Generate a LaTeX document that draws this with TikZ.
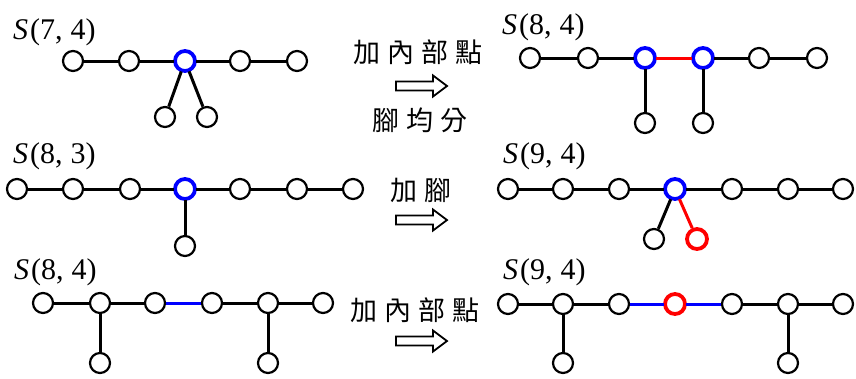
\documentclass[tikz,border=0pt]{standalone}
\usepackage{fontspec}
\setmainfont{Liberation Serif}
\newfontfamily\cjk{Noto Sans CJK TC}
\newcommand\slabel[2]{\textit{S}\hspace{2pt}(#1,\hspace{8pt}#2)}
\newcommand\gap{\hspace{7pt}}
\tikzset{
  vtx/.style={circle,draw,line width=2.2pt,minimum size=20pt,inner sep=0pt,fill=white},
  hub/.style={vtx,draw=blue,line width=3.8pt},
  newv/.style={vtx,draw=red,line width=3.8pt},
  edge/.style={line width=3pt},
  tag/.style={anchor=base west,inner sep=0pt,font=\fontsize{30}{33}\selectfont},
  op/.style={inner sep=0pt,font=\cjk\fontsize{27}{30}\selectfont},
  imp/.style={line width=1.8pt,line join=miter}
}
\begin{document}
\begin{tikzpicture}[x=1pt,y=-1pt]
    \useasboundingbox (0,0) rectangle (856,378);
    % top left: S(7,4)
    \node[tag] (la) at (13,39) {\slabel{7}{4}};
    \foreach \i/\x in {1/73,2/129,3/185,4/240,5/297}
        \node[vtx] (a\i) at (\x,61) {};
    \node[hub] at (a3) {};
    \node[vtx] (b1) at (165,117) {};
    \node[vtx] (b2) at (207,117) {};
    \draw[edge] (a1) -- (a2) -- (a3) -- (a4) -- (a5);
    \draw[edge] (a3) -- (b1) (a3) -- (b2);
    % top right: S(8,4)
    \node[tag] (lc) at (502,34) {\slabel{8}{4}};
    \foreach \i/\x in {1/530,2/588,3/645,4/703,5/759,6/817}
        \node[vtx] (c\i) at (\x,58) {};
    \node[hub] at (c3) {};
    \node[hub] at (c4) {};
    \node[vtx] (d1) at (645,123) {};
    \node[vtx] (d2) at (703,123) {};
    \draw[edge] (c1) -- (c2) -- (c3) (c4) -- (c5) -- (c6);
    \draw[edge,red] (c3) -- (c4);
    \draw[edge] (c3) -- (d1) (c4) -- (d2);
    % middle left: S(8,3)
    \node[tag] (le) at (13,163) {\slabel{8}{3}};
    \foreach \i/\x in {1/17,2/73,3/130,4/185,5/240,6/297,7/353}
        \node[vtx] (e\i) at (\x,189) {};
    \node[hub] at (e4) {};
    \node[vtx] (f) at (185,246) {};
    \draw[edge] (e1) -- (e2) -- (e3) -- (e4) -- (e5) -- (e6) -- (e7);
    \draw[edge] (e4) -- (f);
    % middle right: S(9,4)
    \node[tag] (lg) at (503,163) {\slabel{9}{4}};
    \foreach \i/\x in {1/508,2/563,3/619,4/675,5/732,6/788,7/843}
        \node[vtx] (g\i) at (\x,189) {};
    \node[hub] at (g4) {};
    \node[vtx] (h1) at (654,239) {};
    \node[newv] (h2) at (697,239) {};
    \draw[edge] (g1) -- (g2) -- (g3) -- (g4) -- (g5) -- (g6) -- (g7);
    \draw[edge] (g4) -- (h1);
    \draw[edge,red] (g4) -- (h2);
    % bottom left: S(8,4)
    \node[tag] (lk) at (14,279) {\slabel{8}{4}};
    \foreach \i/\x in {1/43,2/100,3/155,4/212,5/268,6/323}
        \node[vtx] (k\i) at (\x,303) {};
    \node[vtx] (m1) at (100,363) {};
    \node[vtx] (m2) at (268,363) {};
    \draw[edge] (k1) -- (k2) -- (k3) (k4) -- (k5) -- (k6);
    \draw[edge,blue] (k3) -- (k4);
    \draw[edge] (k2) -- (m1) (k5) -- (m2);
    % bottom right: S(9,4)
    \node[tag] (ln) at (503,279) {\slabel{9}{4}};
    \foreach \i/\x in {1/508,2/563,3/619,4/675,5/732,6/788,7/843}
        \node[vtx] (n\i) at (\x,304) {};
    \node[newv] at (n4) {};
    \node[vtx] (p1) at (563,363) {};
    \node[vtx] (p2) at (788,363) {};
    \draw[edge] (n1) -- (n2) -- (n3) (n5) -- (n6) -- (n7);
    \draw[edge,blue] (n3) -- (n4) -- (n5);
    \draw[edge] (n2) -- (p1) (n6) -- (p2);
    % operations
    \node[op] (o1) at (418,52) {加\gap 內\gap 部\gap 點};
    \node[op] (o2) at (420,120) {腳\gap 均\gap 分};
    \node[op] (o3) at (421,190) {加\gap 腳};
    \node[op] (o4) at (415,310) {加\gap 內\gap 部\gap 點};
    \foreach \y in {86,220,341}
        \draw[imp] (396,\y) ++(0,-4.5) -- ++(37,0) -- ++(0,-6) -- ++(14,10.5)
            -- ++(-14,10.5) -- ++(0,-6) -- ++(-37,0) -- cycle;
\end{tikzpicture}
\end{document}
